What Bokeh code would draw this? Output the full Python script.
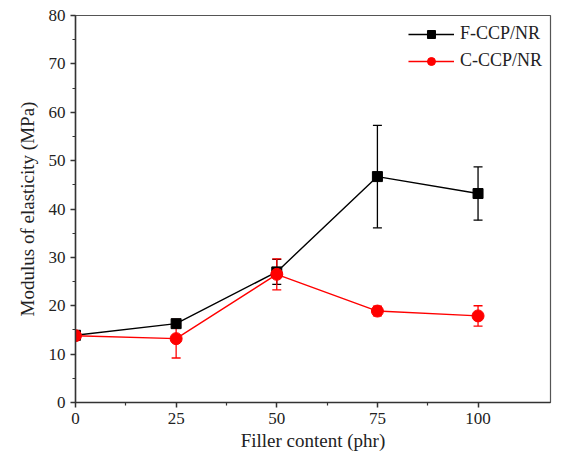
from bokeh.plotting import figure
from bokeh.models import ColumnDataSource, Whisker, TeeHead, FixedTicker, Range1d, Legend, LegendItem
from bokeh.embed import file_html
from bokeh.resources import INLINE

filler = [0, 25, 50, 75, 100]
f_mod = [13.9, 16.3, 27.0, 46.7, 43.2]
f_err = [0.6, 0.6, 2.6, 10.6, 5.5]
c_mod = [13.8, 13.2, 26.5, 18.9, 17.9]
c_err = [0.6, 4.0, 3.2, 1.0, 2.1]

x_ticks = [0, 25, 50, 75, 100]
y_ticks = [0, 10, 20, 30, 40, 50, 60, 70, 80]

FONT = "Liberation Serif"

p = figure(width=552, height=456, output_backend="svg", toolbar_location=None,
           x_range=Range1d(0, 118), y_range=Range1d(0, 80),
           min_border_left=75, min_border_right=2, min_border_top=15, min_border_bottom=54)
p.grid.visible = False
p.outline_line_color = "#555555"
p.outline_line_width = 1.2

def mk(vals, errs):
    return ColumnDataSource(dict(x=filler, y=vals,
                                 lo=[v - e for v, e in zip(vals, errs)],
                                 hi=[v + e for v, e in zip(vals, errs)]))

src_f = mk(f_mod, f_err)
src_c = mk(c_mod, c_err)

items = []
for src, col, marker, size, label in [(src_f, "black", "square", 10, "F-CCP/NR"),
                                      (src_c, "red", "circle", 12, "C-CCP/NR")]:
    w = Whisker(source=src, base="x", upper="hi", lower="lo", line_color=col, line_width=1.3,
                upper_head=TeeHead(size=9, line_color=col, line_width=1.3),
                lower_head=TeeHead(size=9, line_color=col, line_width=1.3))
    p.add_layout(w)
    l = p.line("x", "y", source=src, line_color=col, line_width=1.4)
    s = p.scatter("x", "y", source=src, marker=marker, size=size, fill_color=col, line_color=col)
    items.append(LegendItem(label=label, renderers=[l, s]))

legend = Legend(items=items, location="top_right", border_line_color=None,
                background_fill_alpha=0, label_text_font=FONT, label_text_font_size="18px",
                label_text_color="#222222",
                glyph_width=46, label_standoff=6, spacing=6, margin=8, padding=4)
p.add_layout(legend)

for ax in (p.xaxis[0], p.yaxis[0]):
    ax.axis_line_color = "#333333"
    ax.axis_line_width = 1.5
    ax.major_tick_line_color = "#333333"
    ax.minor_tick_line_color = "#333333"
    ax.major_tick_line_width = 1.5
    ax.minor_tick_line_width = 1.2
    ax.major_tick_out = 5
    ax.major_tick_in = 0
    ax.minor_tick_out = 3
    ax.minor_tick_in = 0
    ax.major_label_text_font = FONT
    ax.major_label_text_font_size = "17px"
    ax.major_label_text_color = "#222222"
    ax.axis_label_text_font = FONT
    ax.axis_label_text_font_size = "19px"
    ax.axis_label_text_font_style = "normal"
    ax.axis_label_text_color = "#222222"

p.xaxis.ticker = FixedTicker(ticks=x_ticks, minor_ticks=[12.5, 37.5, 62.5, 87.5])
p.yaxis.ticker = FixedTicker(ticks=y_ticks, minor_ticks=[5, 15, 25, 35, 45, 55, 65, 75])
p.xaxis.axis_label = "Filler content (phr)"
p.yaxis.axis_label = "Modulus of elasticity (MPa)"
p.xaxis.axis_label_standoff = 3
p.yaxis.axis_label_standoff = 8

open("out.html", "w").write(file_html(p, INLINE))
